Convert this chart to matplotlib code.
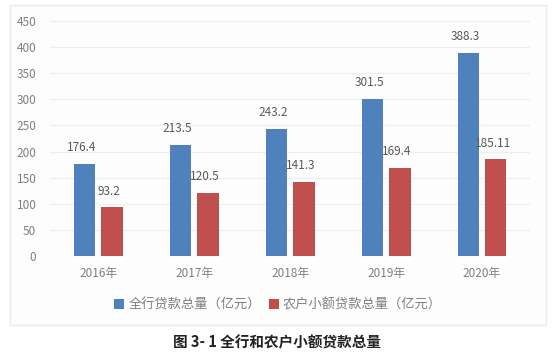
import matplotlib.pyplot as plt
from matplotlib.patches import Rectangle
import numpy as np

plt.rcParams['font.family'] = ['Noto Sans CJK SC', 'DejaVu Sans']

years = ["2016年", "2017年", "2018年", "2019年", "2020年"]
total_loans = [176.4, 213.5, 243.2, 301.5, 388.3]
farmer_loans = [93.2, 120.5, 141.3, 169.4, 185.11]
series_names = ["全行贷款总量（亿元）", "农户小额贷款总量（亿元）"]
caption = "图 3- 1 全行和农户小额贷款总量"

blue = "#4F81BD"
red = "#C0504D"
text_gray = "#595959"
axis_gray = "#7F7F7F"

fig = plt.figure(figsize=(5.57, 3.54), dpi=100)
fig.patch.set_facecolor("white")

# chart frame
frame = Rectangle((10 / 557, 1 - 325 / 354), 536 / 557, 320 / 354,
                  transform=fig.transFigure, facecolor="#FDFDFD",
                  edgecolor="#EBEBEB", linewidth=1.0, zorder=-5)
fig.add_artist(frame)

ax = fig.add_axes([50.25 / 557, 1 - 256 / 354, 479.75 / 557, 235 / 354])
ax.set_zorder(2)
ax.set_facecolor("none")

x = np.arange(len(years))
w = 0.224
off = 0.143
b1 = ax.bar(x - off, total_loans, w, color=blue, label=series_names[0], zorder=3)
b2 = ax.bar(x + off, farmer_loans, w, color=red, label=series_names[1], zorder=3)

for bars, vals in ((b1, total_loans), (b2, farmer_loans)):
    for rect, v in zip(bars, vals):
        ax.annotate(f"{v:g}", (rect.get_x() + rect.get_width() / 2, v),
                    xytext=(-2, 7), textcoords="offset points",
                    ha="center", va="bottom", fontsize=8.5, color=text_gray)

ax.set_xlim(-0.5, len(years) - 0.5)
ax.set_ylim(0, 450)
ax.set_yticks(range(0, 451, 50))
ax.set_xticks(x)
ax.set_xticklabels(years)
ax.tick_params(axis="both", length=0, labelsize=8.5, labelcolor=axis_gray)
ax.tick_params(axis="x", pad=8)
ax.tick_params(axis="y", pad=10)
ax.grid(axis="y", color="#EEEEEE", linewidth=0.9, zorder=0)
for s in ax.spines.values():
    s.set_visible(False)

leg = fig.legend(handles=[b1, b2], labels=series_names, loc="center",
                 bbox_to_anchor=(278 / 557, 1 - 305 / 354), ncol=2, frameon=False,
                 fontsize=9.5, labelcolor=axis_gray, handlelength=0.75,
                 handleheight=0.75, handletextpad=0.3, columnspacing=0.6)
leg.set_zorder(3)

fig.text(277 / 557, 1 - 342 / 354, caption, ha="center", va="center",
         fontsize=10.5, fontweight="bold", color="#222222", zorder=3)

fig.savefig("out.png", dpi=100)
